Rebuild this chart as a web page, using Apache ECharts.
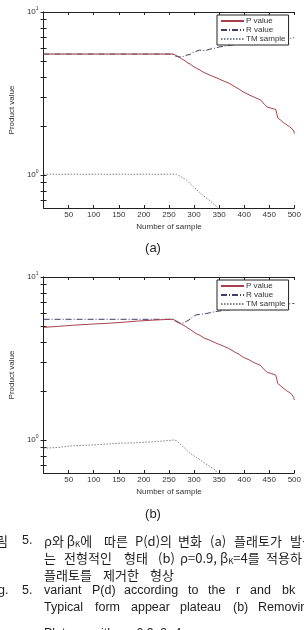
<!DOCTYPE html>
<html>
<head>
<meta charset="utf-8">
<script src="https://cdn.jsdelivr.net/npm/echarts@6/dist/echarts.min.js"></script>
<style>
html, body { margin: 0; padding: 0; background: #fff; }
#chartmain { width: 304px; height: 630px; }
</style>
</head>
<body>
<div id="chartmain"></div>
<script>
var names = ['P value', 'R value', 'TM sample'];
var xTicks = [50, 100, 150, 200, 250, 300, 350, 400, 450, 500];
var yTicks = [0.7, 0.8, 0.9, 1, 2, 3, 4, 5, 6, 7, 8, 9, 10];
var yLabels = [1, 10];

// (a) plateau
var pValueA = [[0, 5.52], [258, 5.52], [262, 5.45], [266, 5.38], [270, 5.28], [276, 5.15], [282, 5.02], [286, 4.9], [292, 4.8],
	[298, 4.65], [304, 4.53], [312, 4.4], [320, 4.25], [331, 4.11], [340, 4.0], [350, 3.88], [360, 3.76], [369, 3.67],
	[380, 3.5], [390, 3.36], [398, 3.23], [410, 3.1], [420, 3.0], [433, 2.88], [440, 2.72], [446, 2.61], [452, 2.58],
	[463, 2.52], [465, 2.38], [467, 2.24], [472, 2.18], [478, 2.1], [485, 2.03], [490, 1.98], [494, 1.94], [497, 1.92],
	[499, 1.86], [500, 1.8]];
var rValueA = [[0, 5.52], [258, 5.52], [263, 5.37], [270, 5.3], [279, 5.33], [286, 5.45], [292, 5.48], [296, 5.62],
	[301, 5.7], [311, 5.83], [323, 5.8], [330, 5.9], [340, 5.98], [350, 6.1], [380, 6.3], [420, 6.55], [460, 6.75],
	[490, 6.88], [500, 6.95]];
var tmSampleA = [[0, 1.01], [265, 1.01], [275, 0.97], [285, 0.93], [298, 0.85], [317, 0.754], [342, 0.655], [350, 0.615]];

// (b) plateau removed
var pValueB = [[0, 4.91], [30, 4.98], [60, 5.06], [100, 5.15], [125, 5.19], [160, 5.28], [189, 5.37], [220, 5.44],
	[253, 5.5], [258, 5.5], [262, 5.42], [266, 5.35], [270, 5.25], [276, 5.12], [282, 5.0], [288, 4.85], [296, 4.68],
	[304, 4.5], [312, 4.38], [320, 4.22], [331, 4.1], [340, 3.98], [350, 3.86], [360, 3.75], [369, 3.65], [380, 3.48],
	[390, 3.35], [398, 3.22], [410, 3.1], [420, 2.98], [433, 2.86], [440, 2.7], [446, 2.6], [452, 2.57], [463, 2.5],
	[465, 2.36], [467, 2.22], [472, 2.16], [478, 2.08], [485, 2.0], [490, 1.96], [494, 1.92], [497, 1.88], [499, 1.82],
	[500, 1.76]];
var rValueB = [[0, 5.5], [258, 5.5], [263, 5.35], [272, 5.2], [279, 5.22], [285, 5.35], [292, 5.5], [297, 5.7],
	[304, 5.85], [311, 5.9], [323, 5.95], [342, 6.13], [370, 6.3], [410, 6.5], [450, 6.7], [485, 6.82], [500, 6.89]];
var tmSampleB = [[0, 0.89], [30, 0.9], [54, 0.92], [90, 0.93], [119, 0.94], [150, 0.955], [183, 0.96], [220, 0.975],
	[246, 0.99], [260, 1.0], [265, 0.99], [280, 0.9], [292, 0.83], [317, 0.736], [342, 0.655], [348, 0.615]];

var colors = ['#a8404c', '#3e3e66', '#7c8090'];
var lineTypes = ['solid', [6, 2, 1, 2], [1.5, 1.5]];
var axisColor = '#222';
var labelFont = { fontSize: 8, color: '#333', fontFamily: 'Liberation Sans' };

function xAxes(grid) {
	return [{
		gridIndex: grid, type: 'value', min: 0, max: 500, interval: 50, position: 'bottom',
		name: 'Number of sample', nameLocation: 'middle', nameGap: 15,
		nameTextStyle: labelFont,
		axisLine: { lineStyle: { color: axisColor, width: 1 } },
		axisTick: { inside: true, length: 3, lineStyle: { color: axisColor } },
		axisLabel: { customValues: xTicks, margin: 3, fontSize: 8, color: '#333', fontFamily: 'Liberation Sans' },
		splitLine: { show: false }
	}, {
		gridIndex: grid, type: 'value', min: 0, max: 500, interval: 50, position: 'top',
		axisLine: { lineStyle: { color: axisColor, width: 1 } },
		axisTick: { inside: true, length: 3, lineStyle: { color: axisColor } },
		axisLabel: { show: false },
		splitLine: { show: false }
	}];
}

function yAxes(grid) {
	return [{
		gridIndex: grid, type: 'log', min: 0.627, max: 10, position: 'left',
		name: 'Product value', nameLocation: 'middle', nameGap: 20, nameRotate: 90,
		nameTextStyle: labelFont,
		axisLine: { show: true, lineStyle: { color: axisColor, width: 1 } },
		axisTick: { inside: true, length: 3, customValues: yTicks, lineStyle: { color: axisColor } },
		axisLabel: {
			customValues: yLabels, margin: 5, color: '#333',
			formatter: function(v) {
				return '{b|10}{s|' + Math.round(Math.log(v) / Math.LN10) + '}';
			},
			rich: {
				b: { fontSize: 8, fontFamily: 'Liberation Sans', color: '#333' },
				s: { fontSize: 5, fontFamily: 'Liberation Sans', color: '#333', padding: [0, 0, 6, 0] }
			}
		},
		splitLine: { show: false }
	}, {
		gridIndex: grid, type: 'log', min: 0.627, max: 10, position: 'right',
		axisLine: { show: true, lineStyle: { color: axisColor, width: 1 } },
		axisTick: { inside: true, length: 3, customValues: yTicks, lineStyle: { color: axisColor } },
		axisLabel: { show: false },
		splitLine: { show: false }
	}];
}

function makeSeries(axis, list) {
	var out = [];
	for (var i = 0; i < list.length; i++) {
		out.push({
			name: names[i],
			type: 'line',
			xAxisIndex: axis,
			yAxisIndex: axis,
			symbol: 'none',
			animation: false,
			data: list[i],
			lineStyle: { color: colors[i], width: 1, type: lineTypes[i] },
			itemStyle: { color: colors[i] },
			z: 3 - i
		});
	}
	return out;
}

function makeLegend(top) {
	return {
		orient: 'vertical', left: 217, top: top,
		data: names,
		backgroundColor: '#fff', borderColor: '#222', borderWidth: 1,
		padding: [2, 3, 2, 3], itemGap: 1, itemWidth: 23, itemHeight: 10,
		itemStyle: { opacity: 0 },
		textStyle: { fontSize: 8, color: '#333', fontFamily: 'Liberation Sans', padding: [0, 0, 0, -3] },
		selectedMode: false
	};
}

function cap(x, y, text, font) {
	return {
		type: 'text', x: x, y: y, silent: true,
		style: {
			text: text, fill: '#1e1e1e', verticalAlign: 'middle',
			font: font || '13px "Noto Sans CJK KR"',
			rich: {
				k: { fontSize: 8, fontFamily: 'Noto Sans CJK KR', padding: [6, 0, 0, 0], fill: '#1e1e1e' }
			}
		}
	};
}

var en = '12.5px "Liberation Sans"';
var graphics = [
	cap(153, 248, '(a)', '13px "Liberation Sans"'),
	cap(153, 514, '(b)', '13px "Liberation Sans"'),
	cap(-4, 541, '림'), cap(22, 541, '5.', en), cap(44, 541, 'ρ와 β{k|K}에'), cap(104, 541, '따른'),
	cap(135, 541, 'P(d)의'), cap(178, 541, '변화'), cap(210, 541, '(a)'), cap(234, 541, '플래토가'), cap(290, 541, '발생'),
	cap(44, 558, '는'), cap(64, 558, '전형적인'), cap(124, 558, '형태'), cap(158, 558, '(b)'), cap(180, 558, 'ρ=0.9,'),
	cap(220, 558, 'β{k|K}=4를'), cap(266, 558, '적용하'),
	cap(44, 575, '플래토를'), cap(103, 575, '제거한'), cap(150, 575, '형상'),
	cap(-2, 591, 'g.', en), cap(22, 591, '5.', en), cap(44, 591, 'variant', en), cap(92, 591, 'P(d)', en),
	cap(124, 591, 'according', en), cap(188, 591, 'to', en), cap(208, 591, 'the', en), cap(236, 591, 'r', en),
	cap(250, 591, 'and', en), cap(282, 591, 'bk', en),
	cap(44, 608, 'Typical', en), cap(95, 608, 'form', en), cap(131, 608, 'appear', en), cap(180, 608, 'plateau', en),
	cap(233, 608, '(b)', en), cap(258, 608, 'Removing', en),
	cap(44, 634, 'Plateau', en), cap(92, 634, 'with', en), cap(122, 634, 'ρ=0.9,', en), cap(160, 634, 'β=4', en)
];
graphics[0].style.align = 'center';
graphics[1].style.align = 'center';

var option = {
	backgroundColor: '#fff',
	animation: false,
	grid: [
		{ left: 36, top: 12, width: 260, height: 196 },
		{ left: 36, top: 277, width: 260, height: 196 }
	],
	xAxis: xAxes(0).concat(xAxes(1)),
	yAxis: yAxes(0).concat(yAxes(1)),
	legend: [makeLegend(15), makeLegend(280)],
	series: makeSeries(0, [pValueA, rValueA, tmSampleA]).concat(makeSeries(2, [pValueB, rValueB, tmSampleB])),
	graphic: graphics
};

var myChart = echarts.init(document.getElementById('chartmain'));
myChart.setOption(option);
</script>
</body>
</html>
